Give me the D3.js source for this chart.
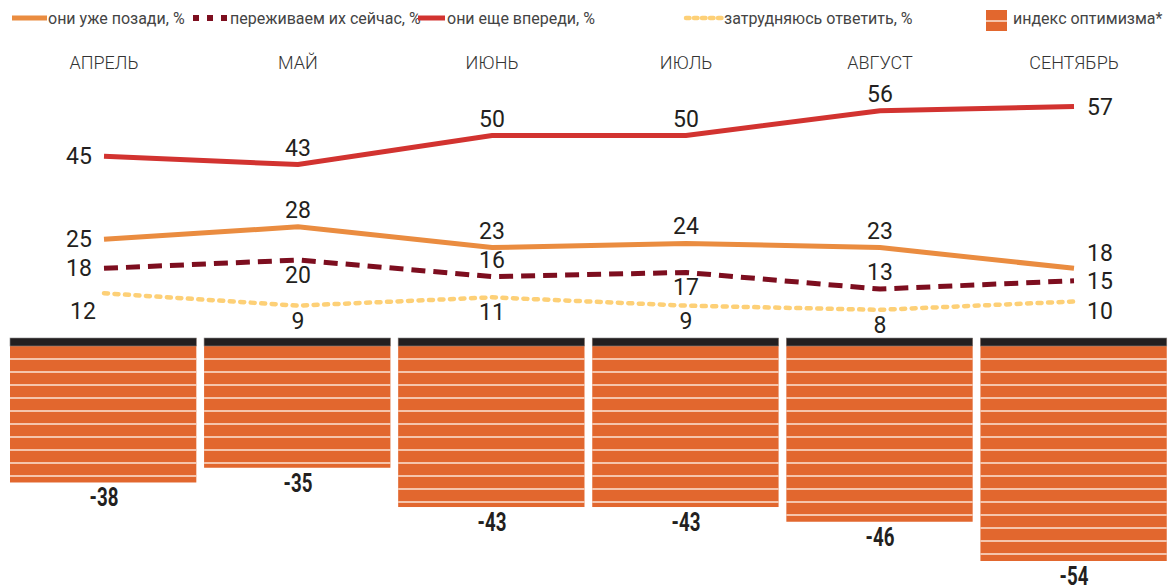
<!DOCTYPE html>
<html>
<head>
<meta charset="utf-8">
<script src="https://cdn.jsdelivr.net/npm/d3@7"></script>
<style>
  body { margin: 0; background: #fff; }
  svg { display: block; }
</style>
</head>
<body>
<svg width="1169" height="586"></svg>
<script>
// Optimism survey: lines per answer + optimism index bars

const months = ["АПРЕЛЬ", "МАЙ", "ИЮНЬ", "ИЮЛЬ", "АВГУСТ", "СЕНТЯБРЬ"];

const behind = [25, 28, 23, 24, 23, 18];   // они уже позади
const now = [18, 20, 16, 17, 13, 15];      // переживаем их сейчас
const ahead = [45, 43, 50, 50, 56, 57];    // они еще впереди
const unsure = [12, 9, 11, 9, 8, 10];      // затрудняюсь ответить
const optimism = [-38, -35, -43, -43, -46, -54];

// where each value label sits relative to its point
const behindPos = ["left", "above", "above", "above", "above", "rightAbove"];
const nowPos = ["left", "below", "above", "below", "above", "right"];
const aheadPos = ["left", "above", "above", "above", "above", "right"];
const unsurePos = ["leftBelow", "below", "below", "below", "below", "rightBelow"];

const svg = d3.select("svg");

const x = d3.scalePoint().domain(months).range([104, 1074]);
const y = d3.scaleLinear().domain([0, 57]).range([343, 106.5]);

const xBand = d3
  .scaleBand()
  .domain(months)
  .range([10, 1166.75])
  .paddingInner(0.04);
const yBar = d3.scaleLinear().domain([0, -54]).range([296, 561]);

const barTop = 338;

// ---- bars ----
const bars = svg
  .append("g")
  .selectAll("g")
  .data(optimism)
  .enter()
  .append("g");

bars
  .append("rect")
  .attr("x", (d, i) => xBand(months[i]))
  .attr("y", barTop)
  .attr("width", xBand.bandwidth())
  .attr("height", (d) => yBar(d) - barTop)
  .attr("fill", "#e2672e");

// white stripes across the bars
bars.each(function (d, i) {
  const bottom = yBar(d);
  const ys = d3.range(359, bottom - 2, 13);
  d3.select(this)
    .selectAll("line")
    .data(ys)
    .enter()
    .append("line")
    .attr("x1", xBand(months[i]))
    .attr("x2", xBand(months[i]) + xBand.bandwidth())
    .attr("y1", (v) => v)
    .attr("y2", (v) => v)
    .attr("stroke", "#fbe3d6")
    .attr("stroke-width", 1.6);
});

bars
  .append("rect")
  .attr("x", (d, i) => xBand(months[i]))
  .attr("y", barTop)
  .attr("width", xBand.bandwidth())
  .attr("height", 8)
  .attr("fill", "#231f20")
  .attr("stroke", "#888")
  .attr("stroke-width", 0.6);

bars
  .append("text")
  .attr("transform", (d, i) => `translate(${x(months[i])},${yBar(d) + 24}) scale(0.72,1)`)
  .attr("text-anchor", "middle")
  .attr("font-family", "Roboto, sans-serif")
  .attr("font-weight", "bold")
  .attr("font-size", 26)
  .attr("fill", "#231f20")
  .text((d) => d);

// ---- month labels ----
svg
  .append("g")
  .selectAll("text")
  .data(months)
  .enter()
  .append("text")
  .attr("x", (d) => x(d))
  .attr("y", 69)
  .attr("text-anchor", "middle")
  .attr("font-family", "Roboto, sans-serif")
  .attr("font-weight", 300)
  .attr("font-size", 18)
  .attr("fill", "#333")
  .text((d) => d);

// ---- lines ----
const line = d3
  .line()
  .x((d, i) => x(months[i]))
  .y((d) => y(d));

const series = [
  { values: unsure, pos: unsurePos, color: "#fdd077", width: 4.5, dash: "4,6.5", cap: "round" },
  { values: now, pos: nowPos, color: "#7d0e1f", width: 5, dash: "14,8", cap: "butt" },
  { values: behind, pos: behindPos, color: "#ea8c40", width: 5, dash: null, cap: "butt" },
  { values: ahead, pos: aheadPos, color: "#d23330", width: 5, dash: null, cap: "butt" },
];

const labelX = (p, cx) => {
  if (p.startsWith("left")) return cx - (p === "leftBelow" ? 21 : 25);
  if (p.startsWith("right")) return cx + 26;
  return cx;
};
const labelY = (p, cy) => {
  if (p === "above") return cy - 9;
  if (p === "below") return cy + 23;
  if (p === "leftBelow") return cy + 26;
  if (p === "rightAbove") return cy - 7;
  if (p === "rightBelow") return cy + 17;
  return cy + 8;
};

series.forEach((s) => {
  svg
    .append("path")
    .datum(s.values)
    .attr("d", line)
    .attr("fill", "none")
    .attr("stroke", s.color)
    .attr("stroke-width", s.width)
    .attr("stroke-dasharray", s.dash)
    .attr("stroke-linecap", s.cap);

  svg
    .append("g")
    .selectAll("text")
    .data(s.values)
    .enter()
    .append("text")
    .attr("x", (d, i) => labelX(s.pos[i], x(months[i])))
    .attr("y", (d, i) => labelY(s.pos[i], y(d)))
    .attr("text-anchor", "middle")
    .attr("font-family", "Roboto, sans-serif")
    .attr("font-size", 23)
    .attr("fill", "#231f20")
    .text((d) => d);
});

// ---- legend ----
const legend = svg.append("g").attr("font-family", "Roboto, sans-serif").attr("font-size", 16).attr("fill", "#444");

legend.append("line").attr("x1", 12).attr("x2", 47).attr("y1", 18).attr("y2", 18)
  .attr("stroke", "#ea8c40").attr("stroke-width", 5);
legend.append("text").attr("x", 48).attr("y", 24).text("они уже позади, %");

legend.append("line").attr("x1", 193).attr("x2", 229).attr("y1", 18).attr("y2", 18)
  .attr("stroke", "#7d0e1f").attr("stroke-width", 6).attr("stroke-dasharray", "6,8");
legend.append("text").attr("x", 230).attr("y", 24).text("переживаем их сейчас, %");

legend.append("line").attr("x1", 418).attr("x2", 445).attr("y1", 18).attr("y2", 18)
  .attr("stroke", "#d23330").attr("stroke-width", 5);
legend.append("text").attr("x", 447).attr("y", 24).text("они еще впереди, %");

legend.append("line").attr("x1", 686).attr("x2", 722).attr("y1", 18).attr("y2", 18)
  .attr("stroke", "#fdd077").attr("stroke-width", 4.5).attr("stroke-dasharray", "3.5,4.5")
  .attr("stroke-linecap", "round");
legend.append("text").attr("x", 724).attr("y", 24).text("затрудняюсь ответить, %");

legend.append("rect").attr("x", 986).attr("y", 10).attr("width", 21).attr("height", 21).attr("fill", "#e2672e");
legend.append("line").attr("x1", 986).attr("x2", 1007).attr("y1", 21).attr("y2", 21)
  .attr("stroke", "#fbe3d6").attr("stroke-width", 1.5);
legend.append("text").attr("x", 1013).attr("y", 24).text("индекс оптимизма*");
</script>
</body>
</html>
